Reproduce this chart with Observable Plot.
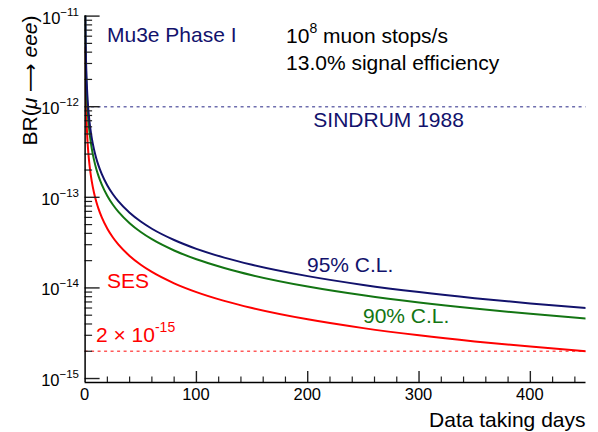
<!DOCTYPE html>
<html><head><meta charset="utf-8">
<script src="https://cdn.jsdelivr.net/npm/d3@7"></script>
<script src="https://cdn.jsdelivr.net/npm/@observablehq/plot@0.6"></script>
<style>body{margin:0;background:#fff}</style>
</head><body><div id="chart"></div>
<script>
// ---- data (BR values in units of 1e-15) ----
const days    = [0.2, 0.25, 0.3, 0.4, 0.5, 0.6, 0.8, 1, 1.25, 1.5, 2, 2.5, 3, 4, 5, 6, 8, 10, 12, 15, 20, 25, 30, 40, 50, 60, 80, 100, 125, 150, 200, 250, 300, 350, 400, 450];
const sesE15  = [4500, 3600, 3000, 2250, 1800, 1500, 1125, 900, 720, 600, 450, 360, 300, 225, 180, 150, 112.5, 90, 75, 60, 45, 36, 30, 22.5, 18, 15, 11.25, 9, 7.2, 6, 4.5, 3.6, 3, 2.57, 2.25, 2.0];
const cl90E15 = [10350, 8280, 6900, 5175, 4140, 3450, 2588, 2070, 1656, 1380, 1035, 828, 690, 518, 414, 345, 259, 207, 172.5, 138, 103.5, 82.8, 69, 51.8, 41.4, 34.5, 25.9, 20.7, 16.6, 13.8, 10.35, 8.28, 6.9, 5.91, 5.18, 4.6];
const cl95E15 = [13500, 10800, 9000, 6750, 5400, 4500, 3375, 2700, 2160, 1800, 1350, 1080, 900, 675, 540, 450, 338, 270, 225, 180, 135, 108, 90, 67.5, 54, 45, 33.8, 27, 21.6, 18, 13.5, 10.8, 9, 7.71, 6.75, 6.0];
const sindrumLimit = 1e-12;
const sesGoal = 2e-15;
const xTickValues = [0, 100, 200, 300, 400];
const xTickLabels = ["0", "100", "200", "300", "400"];
const xMinorTicks = [20, 40, 60, 80, 120, 140, 160, 180, 220, 240, 260, 280, 320, 340, 360, 380, 420, 440];
const yDecades = [-15, -14, -13, -12, -11];
const yTickLabels = ["\u221215", "\u221214", "\u221213", "\u221212", "\u221211"];
const yMinorMantissas = [2, 3, 4, 5, 6, 7, 8, 9];
const xDomain = [0, 450];
const yDomain = [0.904e-15, 1e-11];

const NAVY = "#12126c", GREEN = "#137513", RED = "#ff0000";
const FONT = "'Liberation Sans', Arial, Helvetica, sans-serif";

const ses  = days.map((d, i) => ({day: d, br: sesE15[i] * 1e-15}));
const cl90 = days.map((d, i) => ({day: d, br: cl90E15[i] * 1e-15}));
const cl95 = days.map((d, i) => ({day: d, br: cl95E15[i] * 1e-15}));

const yMajor = yDecades.map(k => Math.pow(10, k));
const yMinor = yDecades.filter(k => k < -11).flatMap(k => yMinorMantissas.map(m => m * Math.pow(10, k)));

const W = 598, H = 432, ML = 84.6, MR = 12.5, MT = 15.6, MB = 50;

const svg = Plot.plot({
  width: W, height: H,
  marginLeft: ML, marginRight: MR, marginTop: MT, marginBottom: MB,
  style: {fontFamily: FONT, background: "white", overflow: "visible"},
  x: {domain: xDomain, axis: null},
  y: {type: "log", domain: yDomain, axis: null},
  marks: [
    Plot.ruleY([sindrumLimit], {stroke: "#6e6eae", strokeWidth: 1.4, strokeDasharray: "3,3.5"}),
    Plot.ruleY([sesGoal], {stroke: "#ff5a5a", strokeWidth: 1.4, strokeDasharray: "3,3.5"}),
    Plot.line(ses,  {x: "day", y: "br", stroke: RED,   strokeWidth: 2, curve: "monotone-x", clip: true}),
    Plot.line(cl90, {x: "day", y: "br", stroke: GREEN, strokeWidth: 2, curve: "monotone-x", clip: true}),
    Plot.line(cl95, {x: "day", y: "br", stroke: NAVY,  strokeWidth: 2, curve: "monotone-x", clip: true}),
    // inward ticks on the y axis
    Plot.tickY(yMajor, {y: d => d, stroke: "#222", strokeWidth: 1.4, insetRight: W - ML - MR - 15}),
    Plot.tickY(yMinor, {y: d => d, stroke: "#222", strokeWidth: 1.2, insetRight: W - ML - MR - 7.5}),
    // inward ticks on the x axis
    Plot.tickX(xTickValues.slice(1), {x: d => d, stroke: "#222", strokeWidth: 1.4, insetTop: H - MT - MB - 11}),
    Plot.tickX(xMinorTicks, {x: d => d, stroke: "#222", strokeWidth: 1.2, insetTop: H - MT - MB - 5.5}),
    Plot.ruleX([xDomain[0]], {stroke: "#000", strokeWidth: 1.5}),
    Plot.ruleY([yDomain[0]], {stroke: "#000", strokeWidth: 1.5})
  ]
});
document.getElementById("chart").appendChild(svg);

const sx = svg.scale("x"), sy = svg.scale("y");
const X = v => sx.apply(v), Y = v => sy.apply(v);
const root = d3.select(svg);
const g = root.append("g").attr("font-family", FONT);
const yb = Y(yDomain[0]);

// rich text helper: parts = [[text, kind]], kind: "", "sup", "it", "arrow"
function rich(x, y, parts, {size = 21, supSize = 14, raise = 10, fill = "#000", anchor = "start", rotate = null} = {}) {
  const t = g.append("text").attr("x", x).attr("y", y).attr("fill", fill)
    .attr("font-size", size).attr("text-anchor", anchor);
  if (rotate !== null) t.attr("transform", `rotate(${rotate},${x},${y})`);
  let up = false;
  parts.forEach(([s, kind]) => {
    const sp = t.append("tspan").text(s);
    if (kind === "sup") { sp.attr("font-size", supSize).attr("dy", -raise); up = true; }
    else {
      if (up) { sp.attr("dy", raise); up = false; }
      if (kind === "it") sp.attr("font-style", "italic");
      if (kind === "arrow") sp.attr("font-family", "'DejaVu Sans', sans-serif").attr("font-size", size * 0.95);
    }
  });
  return t;
}

// tick labels
yDecades.forEach((k, i) => {
  rich(79, Y(Math.pow(10, k)) + 8, [["10", ""], [yTickLabels[i], "sup"]],
       {size: 16.5, supSize: 11.5, raise: 8, anchor: "end"});
});
xTickValues.forEach((v, i) => {
  g.append("text").attr("x", X(v)).attr("y", yb + 18).attr("font-size", 16.5)
    .attr("text-anchor", "middle").text(xTickLabels[i]);
});

// axis titles
rich(585.5, 426.5, [["Data taking days", ""]], {anchor: "end"});
rich(37, 15.5, [["BR(", ""], ["\u03bc", "it"], [" ", ""], ["\u27f6", "arrow"], [" ", ""], ["eee", "it"], [")", ""]],
     {anchor: "end", rotate: -90});

// annotations (anchored in data coordinates)
rich(X(20.1), Y(5.07e-12), [["Mu3e Phase I", ""]], {fill: NAVY});
rich(X(181), Y(4.98e-12), [["10", ""], ["8", "sup"], [" muon stops/s", ""]]);
rich(X(181), Y(2.51e-12), [["13.0% signal efficiency", ""]]);
rich(X(205.5), Y(5.94e-13), [["SINDRUM 1988", ""]], {fill: NAVY});
rich(X(199.8), Y(1.49e-14), [["95% C.L.", ""]], {fill: NAVY});
rich(X(250.1), Y(4.07e-15), [["90% C.L.", ""]], {fill: GREEN});
rich(X(20.1), Y(9.9e-15), [["SES", ""]], {fill: RED});
rich(X(10.2), Y(2.49e-15), [["2 \u00d7 10", ""], ["-15", "sup"]], {fill: RED, supSize: 14, raise: 10});
</script>
</body></html>
